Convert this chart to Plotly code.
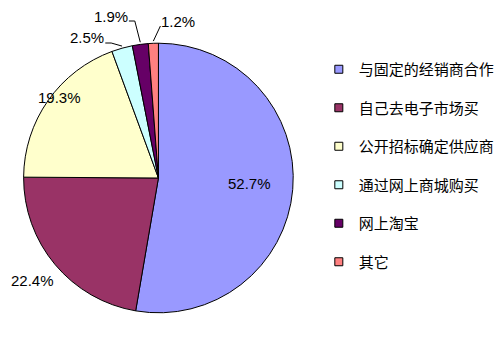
import plotly.graph_objects as go
import math

# ---- data ----
categories = ["与固定的经销商合作", "自己去电子市场买", "公开招标确定供应商",
              "通过网上商城购买", "网上淘宝", "其它"]
shares = [52.7, 22.4, 19.3, 2.5, 1.9, 1.2]
colors = ["#9999FF", "#993366", "#FFFFCC", "#CCFFFF", "#660066", "#FF8080"]

W, H = 500, 340
def px(x):
    return x / W
def py(y):
    return 1 - y / H

# pie placement (pixels)
CX, CY, R = 161, 178, 137

fig = go.Figure()
fig.add_trace(go.Pie(
    labels=categories, values=shares, sort=False, direction="clockwise",
    rotation=0, marker=dict(colors=colors, line=dict(color="#000000", width=1)),
    textinfo="none", hoverinfo="label+percent", showlegend=False,
    domain=dict(x=[px(CX - R), px(CX + R)], y=[py(CY + R), py(CY - R)]),
))

# legend entries (one per slice, spaced like the reference)
for i, (c, col) in enumerate(zip(categories, colors)):
    fig.add_trace(go.Scatter(
        x=[None], y=[None], mode="markers", name=c, legendgroup=f"g{i}",
        marker=dict(symbol="square", size=8, color=col,
                    line=dict(color="#000000", width=1)),
    ))

# label placement (pixel centers) and leader line elbows
label_pos = [(254, 183), (33, 280), (60, 97), (88, 37), (113, 16), (181, 21)]
leaders = {3: [(107, 43), (113, 43)], 4: [(131, 21), (137, 21)], 5: [(163, 26)]}

total = sum(shares)
cum = 0
annotations = []
shapes = []
for i, v in enumerate(shares):
    mid = (cum + v / 2) / total * 2 * math.pi
    cum += v
    ex = CX + R * math.sin(mid)
    ey = CY - R * math.cos(mid)
    lx, ly = label_pos[i]
    annotations.append(dict(
        x=px(lx), y=py(ly), xref="paper", yref="paper", showarrow=False,
        text=f"{v:.1f}%", font=dict(family="Liberation Sans, Arial", size=15, color="#000000"),
        xanchor="center", yanchor="middle",
    ))
    if i in leaders:
        pts = leaders[i] + [(ex, ey)]
        path = "M " + " L ".join(f"{px(a)},{py(b)}" for a, b in pts)
        shapes.append(dict(type="path", path=path, xref="paper", yref="paper",
                           line=dict(color="#000000", width=1)))

fig.update_layout(
    width=W, height=H, margin=dict(l=0, r=0, t=0, b=0),
    paper_bgcolor="white", plot_bgcolor="white",
    xaxis=dict(visible=False), yaxis=dict(visible=False),
    annotations=annotations, shapes=shapes,
    legend=dict(x=px(324), y=py(53), xanchor="left", yanchor="top",
                font=dict(family="Noto Sans CJK SC", size=15, color="#000000"),
                tracegroupgap=16, bgcolor="rgba(0,0,0,0)", itemclick=False),
    showlegend=True,
)
fig.write_html("out.html")
